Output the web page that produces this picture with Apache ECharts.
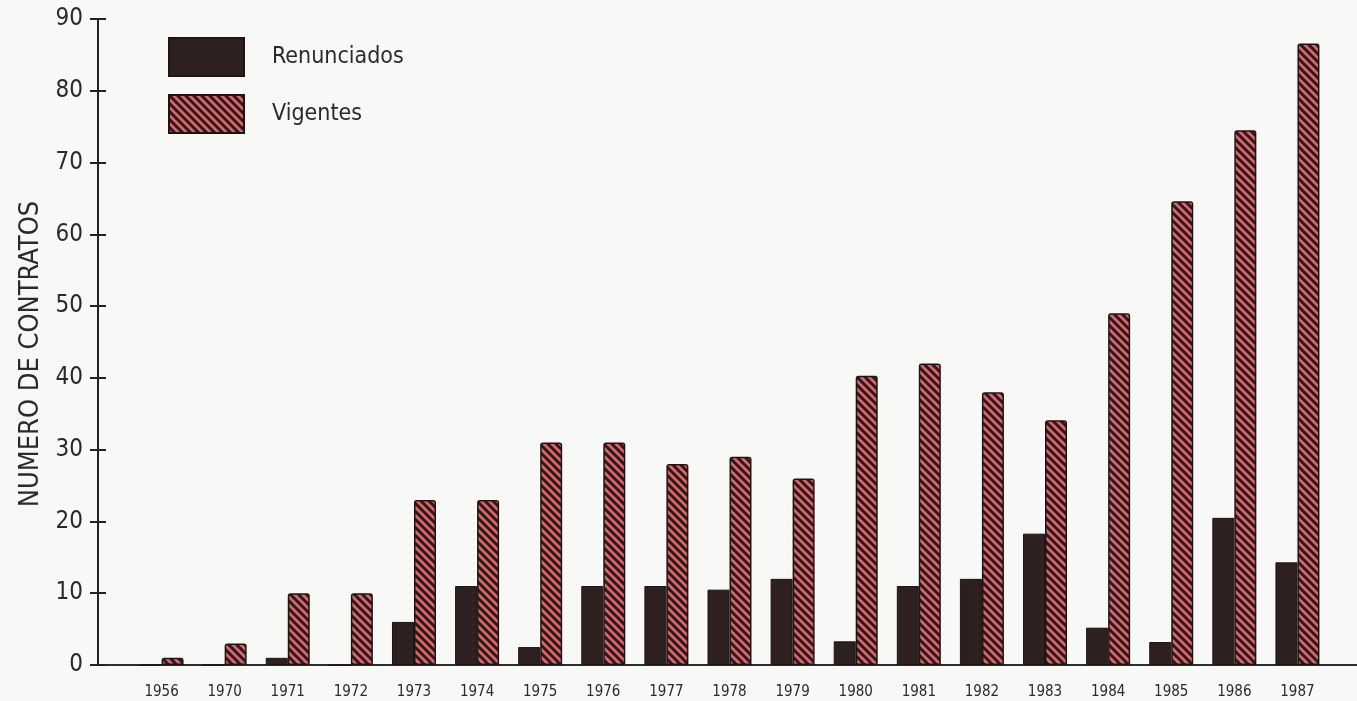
<!DOCTYPE html>
<html>
<head>
<meta charset="utf-8">
<script src="https://cdn.jsdelivr.net/npm/echarts@6/dist/echarts.min.js"></script>
<style>
  html, body { margin: 0; padding: 0; background: #f8f8f6; }
  #chart { width: 1357px; height: 701px; }
</style>
</head>
<body>
<div id="chart"></div>
<script>
const years = ['1956', '1970', '1971', '1972', '1973', '1974', '1975', '1976', '1977', '1978',
               '1979', '1980', '1981', '1982', '1983', '1984', '1985', '1986', '1987'];
const renunciados = [0, 0, 1, 0, 6, 11, 2.5, 11, 11, 10.5, 12, 3.3, 11, 12, 18.3, 5.2, 3.2, 20.5, 14.3];
const vigentes = [1, 3, 10, 10, 23, 23, 31, 31, 28, 29, 26, 40.3, 42, 38, 34.1, 49, 64.6, 74.5, 86.6];
const yTicks = [0, 10, 20, 30, 40, 50, 60, 70, 80, 90];

const font = "'Liberation Sans Narrow', 'DejaVu Sans Condensed', 'Liberation Sans', sans-serif";

// hatch: salmon red with dark diagonal stripes
function hatch() {
    const s = 8;
    const c = document.createElement('canvas');
    c.width = s; c.height = s;
    const ctx = c.getContext('2d');
    ctx.fillStyle = '#e0646a';
    ctx.fillRect(0, 0, s, s);
    ctx.strokeStyle = '#2b1a1c';
    ctx.lineWidth = 3;
    ctx.beginPath();
    for (let k = -s; k <= 2 * s; k += s) {
        ctx.moveTo(k - 2, -2);
        ctx.lineTo(k + s + 2, s + 2);
    }
    ctx.stroke();
    return c;
}

const chart = echarts.init(document.getElementById('chart'));
const option = {
    backgroundColor: '#f8f8f6',
    animation: false,
    textStyle: { fontFamily: font },
    legend: {
        orient: 'vertical',
        left: 163,
        top: 32,
        itemWidth: 75,
        itemHeight: 38,
        itemGap: 17,
        icon: 'rect',
        textStyle: { fontSize: 23, color: '#2a2a2a', fontFamily: font, padding: [0, 0, 0, 23] },
        data: ['Renunciados', 'Vigentes']
    },
    grid: [
        { left: 130, right: 28, top: 19, bottom: 36, outerBoundsMode: 'none' },
        { left: 98, right: 0, top: 19, bottom: 36, outerBoundsMode: 'none' }
    ],
    xAxis: [
        {
            type: 'category', gridIndex: 0, data: years,
            axisLine: { show: false }, axisTick: { show: false },
            axisLabel: { fontSize: 15, color: '#2a2a2a', margin: 20, fontFamily: font }
        },
        {
            type: 'value', gridIndex: 1, min: 0, max: 1, position: 'bottom',
            axisLine: { show: true, lineStyle: { color: '#222', width: 2 } },
            axisTick: { show: false }, axisLabel: { show: false }, splitLine: { show: false }
        },
        {
            type: 'value', gridIndex: 1, min: 0, max: 1, position: 'top',
            axisLine: { show: true, lineStyle: { color: '#333', width: 1.5 } },
            axisTick: { show: false }, axisLabel: { show: false }, splitLine: { show: false }
        }
    ],
    yAxis: [
        {
            type: 'value', gridIndex: 0, min: 0, max: 90, interval: 10, show: false
        },
        {
            type: 'value', gridIndex: 1, min: 0, max: 90, interval: 10,
            name: 'NUMERO DE CONTRATOS',
            nameLocation: 'middle',
            nameGap: 46,
            nameRotate: 90,
            nameTextStyle: { fontSize: 27, color: '#2a2a2a', fontFamily: font, padding: [0, 24, 0, 0] },
            axisLine: { show: true, lineStyle: { color: '#222', width: 2 } },
            axisTick: { show: true, length: 8, lineStyle: { color: '#222', width: 2 } },
            axisLabel: {
                fontSize: 24, color: '#2a2a2a', margin: 15, fontFamily: font,
                formatter: v => yTicks.includes(v) ? String(v) : ''
            },
            splitLine: { show: false }
        },
        {
            type: 'value', gridIndex: 1, min: 0, max: 90, interval: 10, position: 'left',
            axisLine: { show: false },
            axisTick: { show: true, inside: true, length: 8, lineStyle: { color: '#222', width: 2 } },
            axisLabel: { show: false },
            splitLine: { show: false }
        }
    ],
    series: [
        {
            name: 'Renunciados',
            type: 'bar',
            xAxisIndex: 0, yAxisIndex: 0,
            barWidth: 22,
            barGap: '0%',
            itemStyle: { color: '#2e1f20', borderColor: '#1e1414', borderWidth: 1 },
            data: renunciados
        },
        {
            name: 'Vigentes',
            type: 'bar',
            xAxisIndex: 0, yAxisIndex: 0,
            barWidth: 22,
            barGap: '0%',
            itemStyle: {
                color: { image: hatch(), repeat: 'repeat' },
                borderColor: '#1e1414', borderWidth: 1.5, borderRadius: [2, 2, 0, 0]
            },
            data: vigentes
        }
    ]
};
chart.setOption(option);
</script>
</body>
</html>
